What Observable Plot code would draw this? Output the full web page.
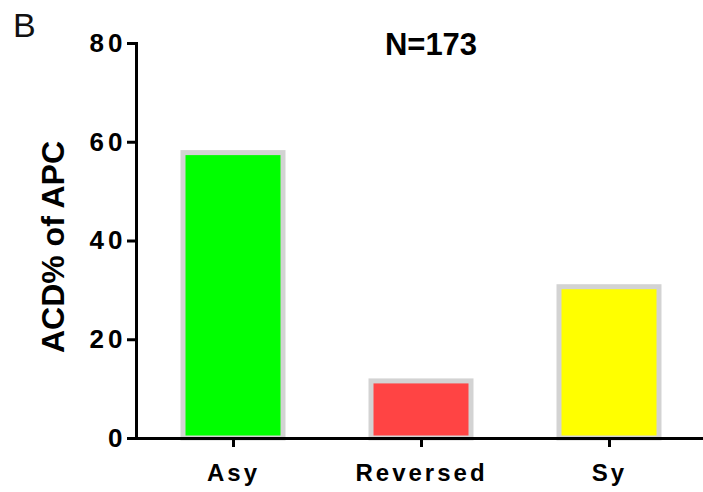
<!DOCTYPE html>
<html>
<head>
<meta charset="utf-8">
<script src="https://cdn.jsdelivr.net/npm/d3@7"></script>
<script src="https://cdn.jsdelivr.net/npm/@observablehq/plot@0.6"></script>
<style>
  html, body { margin: 0; padding: 0; background: #fff; }
  #wrap { position: relative; width: 703px; height: 492px; font-family: "Liberation Sans", Arial, sans-serif; }
  #panel { position: absolute; left: 13px; top: 8px; font-size: 34px; line-height: 1; color: #111; }
  #title { position: absolute; left: 431px; top: 29px; transform: translateX(-50%); font-size: 31px; font-weight: bold; line-height: 1; color: #000; white-space: nowrap; }
  svg [aria-label="y-axis tick label"] text { letter-spacing: 4px; }
  svg [aria-label="x-axis tick label"] text { letter-spacing: 3px; }
</style>
</head>
<body>
<div id="wrap">
  <div id="chart"></div>
  <div id="panel">B</div>
  <div id="title">N=173</div>
</div>
<script>
const categories = ["Asy", "Reversed", "Sy"];
const values = [57.8, 11.56, 30.64];
const colors = ["#00ff00", "#ff4444", "#ffff00"];
const yTicks = [0, 20, 40, 60, 80];
const yLabel = "ACD% of APC";

const data = categories.map((c, i) => ({category: c, value: values[i], color: colors[i]}));

const chart = Plot.plot({
  width: 703,
  height: 492,
  marginLeft: 136,
  marginRight: 0,
  marginTop: 43,
  marginBottom: 54,
  style: {fontFamily: "'Liberation Sans', Arial, sans-serif", color: "#000", background: "#fff"},
  x: {domain: categories, range: [136, 706], paddingInner: 0.47, paddingOuter: 0.243},
  y: {domain: [0, 80]},
  marks: [
    Plot.barY(data, {x: "category", y: "value", fill: "color", stroke: "#d3d3d3", strokeWidth: 5}),
    Plot.ruleY([0], {stroke: "#000", strokeWidth: 3}),
    Plot.frame({anchor: "left", stroke: "#000", strokeWidth: 3}),
    Plot.axisY({ticks: yTicks, tickSize: 9, tickPadding: 1, strokeWidth: 3, fontSize: 26, fontWeight: "bold", label: null}),
    Plot.axisX({tickSize: 9, tickPadding: 16, strokeWidth: 3, fontSize: 24, fontWeight: "bold", label: null}),
    Plot.text([yLabel], {text: d => d, frameAnchor: "left", textAnchor: "middle", rotate: -90, dx: -83, dy: 6, fontSize: 32, fontWeight: "bold", fill: "#000"})
  ]
});
document.getElementById("chart").appendChild(chart);
</script>
</body>
</html>
